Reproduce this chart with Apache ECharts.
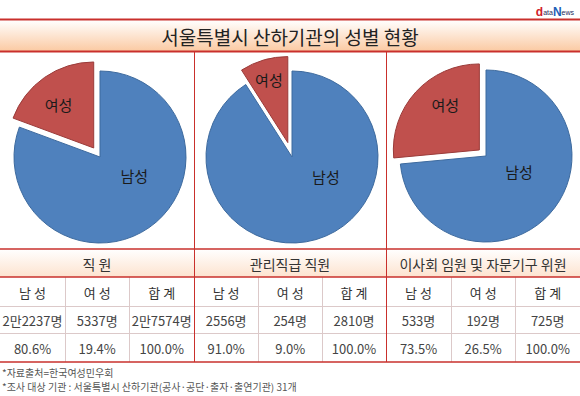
<!DOCTYPE html>
<html>
<head>
<meta charset="utf-8">
<script src="https://cdn.jsdelivr.net/npm/echarts@6/dist/echarts.min.js"></script>
<style>
  html, body { margin: 0; padding: 0; background: #fff; }
  #chart { width: 580px; height: 396px; }
</style>
</head>
<body>
<div id="chart"></div>
<script>
// 데이터
const titleText = '서울특별시 산하기관의 성별 현황'
const groups = ['직 원', '관리직급 직원', '이사회 임원 및 자문기구 위원']
const colHeads = ['남 성', '여 성', '합 계']
const sliceNames = ['남성', '여성']
const maleCounts = [22237, 2556, 533]
const femaleCounts = [5337, 254, 192]
const countLabels = [
    ['2만2237명', '5337명', '2만7574명'],
    ['2556명', '254명', '2810명'],
    ['533명', '192명', '725명']
]
const percentLabels = [
    ['80.6%', '19.4%', '100.0%'],
    ['91.0%', '9.0%', '100.0%'],
    ['73.5%', '26.5%', '100.0%']
]
const notes = [
    '*자료출처=한국여성민우회',
    '*조사 대상 기관 : 서울특별시 산하기관(공사·공단·출자·출연기관) 31개'
]

const FONT = '"Noto Sans CJK KR", "Noto Sans", sans-serif'
const RED = '#c9302c'
const GRID = '#dcc9c9'

// 레이아웃
const W = 580
const panelX = [0, 194, 386, 580]
const colFrac = [0, 0.335, 0.667, 1]
const rowY = [249, 277, 306, 333, 362]
const pieCenters = [[100, 157], [292, 157], [486, 156]]
const pieOffsets = [11, 15, 9]
const labelShift = [
    [[8, -19], [-9, -6]],
    [[21, -25], [-6, -19]],
    [[-1, -15], [0, -14]]
]

const text = (x, y, str, size, color, align, extra) => ({
    type: 'text',
    silent: true,
    style: Object.assign({
        x: x, y: y, text: str,
        fill: color,
        font: size + 'px ' + FONT,
        align: align || 'center', textAlign: align || 'center',
        verticalAlign: 'middle', textVerticalAlign: 'middle'
    }, extra || {})
})
const line = (x1, y1, x2, y2, color, width) => ({
    type: 'line',
    silent: true,
    shape: { x1: x1, y1: y1, x2: x2, y2: y2 },
    style: { stroke: color, lineWidth: width }
})

const buildGraphic = () => {
    const g = []
    // 제목 띠
    g.push({
        type: 'rect', silent: true,
        shape: { x: 0, y: 20, width: W, height: 31 },
        style: {
            fill: new echarts.graphic.LinearGradient(0, 0, 0, 1, [
                { offset: 0, color: '#ffffff' },
                { offset: 1, color: '#fbcaa3' }
            ])
        }
    })
    g.push(line(0, 19.5, W, 19.5, RED, 2))
    g.push(line(0, 51.5, W, 51.5, RED, 2))
    g.push(text(290, 36, titleText, 19, '#222'))
    // 로고
    g.push({
        type: 'text', silent: true,
        style: {
            x: 574, y: 12, align: 'right', textAlign: 'right',
            verticalAlign: 'middle', textVerticalAlign: 'middle',
            text: '{a|d}{b|ata}{c|N}{b|ews}',
            rich: {
                a: { fill: '#d0202a', font: 'bold 12px Arial, sans-serif' },
                b: { fill: '#1d2a5a', font: '7px Arial, sans-serif' },
                c: { fill: '#1d5fb8', font: 'bold 12px Arial, sans-serif' }
            }
        }
    })

    // 표 머리 배경
    g.push({
        type: 'rect', silent: true,
        shape: { x: 0, y: rowY[0], width: W, height: rowY[1] - rowY[0] },
        style: {
            fill: new echarts.graphic.LinearGradient(0, 0, 0, 1, [
                { offset: 0, color: '#ffffff' },
                { offset: 1, color: '#fde3cf' }
            ])
        }
    })

    // 칸 선
    for (let p = 0; p < 3; p++) {
        const x0 = panelX[p], w = panelX[p + 1] - panelX[p]
        for (let c = 1; c < 3; c++) {
            const x = Math.round(x0 + w * colFrac[c]) + 0.5
            g.push(line(x, rowY[1], x, rowY[4], GRID, 1))
        }
    }
    g.push(line(0, rowY[2] + 0.5, W, rowY[2] + 0.5, GRID, 1))
    g.push(line(0, rowY[3] + 0.5, W, rowY[3] + 0.5, GRID, 1))
    g.push(line(0, rowY[0], W, rowY[0], RED, 1.5))
    g.push(line(0, rowY[1], W, rowY[1], RED, 1.5))
    g.push(line(0, rowY[4], W, rowY[4], RED, 1.5))
    g.push(line(panelX[1] + 0.5, 52, panelX[1] + 0.5, rowY[4], RED, 1))
    g.push(line(panelX[2] + 0.5, 52, panelX[2] + 0.5, rowY[4], RED, 1))

    // 표 글자
    for (let p = 0; p < 3; p++) {
        const x0 = panelX[p], w = panelX[p + 1] - panelX[p]
        g.push(text(x0 + w / 2, (rowY[0] + rowY[1]) / 2 + 1, groups[p], 14, '#333'))
        for (let c = 0; c < 3; c++) {
            const cx = x0 + w * (colFrac[c] + colFrac[c + 1]) / 2
            g.push(text(cx, (rowY[1] + rowY[2]) / 2 + 1, colHeads[c], 13, '#333'))
            g.push(text(cx, (rowY[2] + rowY[3]) / 2 + 1, countLabels[p][c], 13, '#444'))
            g.push(text(cx, (rowY[3] + rowY[4]) / 2 + 1, percentLabels[p][c], 13, '#444'))
        }
    }

    // 주석
    g.push(text(2, 372, notes[0], 10, '#555', 'left', { lineHeight: 12 }))
    g.push(text(2, 386, notes[1], 10, '#555', 'left', { lineHeight: 12 }))
    return g
}

const buildPie = (i) => ({
    type: 'pie',
    center: pieCenters[i],
    radius: 86,
    startAngle: 90,
    clockwise: true,
    selectedMode: 'single',
    selectedOffset: pieOffsets[i],
    avoidLabelOverlap: false,
    animation: false,
    emphasis: { disabled: true },
    label: {
        show: true,
        position: 'inside',
        formatter: '{b}',
        color: '#1a1a1a',
        fontSize: 15,
        fontFamily: FONT
    },
    labelLine: { show: false },
    labelLayout: (params) => ({
        dx: labelShift[i][params.dataIndex][0],
        dy: labelShift[i][params.dataIndex][1]
    }),
    data: [
        {
            name: sliceNames[0], value: maleCounts[i],
            itemStyle: { color: '#4f81bd', borderColor: '#3d6a9e', borderWidth: 1 }
        },
        {
            name: sliceNames[1], value: femaleCounts[i], selected: true,
            itemStyle: { color: '#c0504d', borderColor: '#9a3b39', borderWidth: 1 }
        }
    ]
})

const chart = echarts.init(document.getElementById('chart'), null, { renderer: 'svg' })
chart.setOption({
    animation: false,
    backgroundColor: '#ffffff',
    graphic: { elements: buildGraphic() },
    series: [0, 1, 2].map(buildPie)
})
window.onresize = () => chart.resize()
</script>
</body>
</html>
